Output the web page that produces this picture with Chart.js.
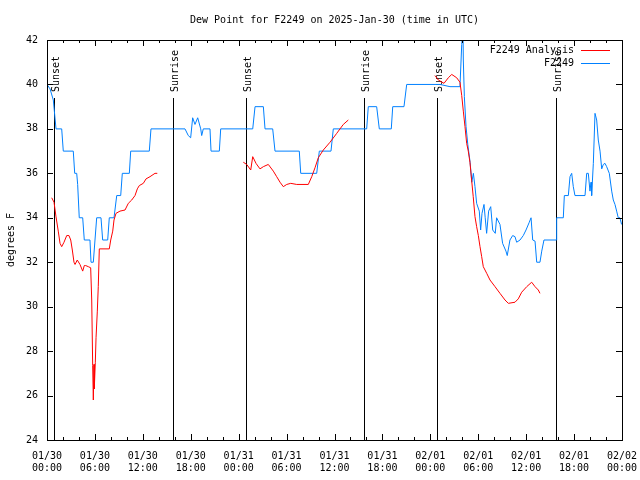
<!DOCTYPE html>
<html>
<head>
    <title>Dew Point for F2249</title>
    <script src="https://cdn.jsdelivr.net/npm/chart.js"></script>
    <style>
        body { margin: 0; background: white; }
        canvas { display: block; }
    </style>
</head>
<body>
    <canvas id="dewChart" width="640" height="480"></canvas>

    <script>
        // hours since 2025-01-30 00:00 UTC
        const obsHours = [0.0, 0.38, 0.79, 1.13, 1.84, 2.04, 3.29, 3.47, 3.72, 3.84, 4.04, 4.47, 4.67, 5.38, 5.51, 5.80, 6.01, 6.22, 6.76, 6.97,
            7.60, 7.80, 8.39, 8.73, 9.23, 9.43, 10.31, 10.48, 12.81, 13.02, 17.28, 17.69, 17.99, 18.24, 18.53, 18.87, 19.25, 19.37, 19.57, 20.41,
            20.54, 21.58, 21.75, 25.76, 26.05, 27.09, 27.30, 28.26, 28.55, 31.59, 31.77, 33.77, 34.10, 35.56, 35.85, 40.03, 40.23, 41.28, 41.61, 43.11,
            43.29, 44.70, 45.04, 49.21, 50.46, 51.71, 51.93, 52.09, 52.13, 52.26, 52.47, 52.69, 52.98, 53.19, 53.39, 53.59, 53.80, 54.13, 54.30, 54.47,
            54.72, 54.87, 55.05, 55.30, 55.56, 55.81, 56.13, 56.30, 56.72, 57.05, 57.47, 57.63, 57.97, 58.31, 58.60, 58.81, 59.23, 59.64, 59.98, 60.39,
            60.61, 60.82, 61.11, 61.32, 61.73, 61.95, 62.23, 63.74, 63.82, 64.65, 64.78, 65.28, 65.49, 65.70, 65.90, 66.11, 67.37, 67.58, 67.78, 67.99,
            68.12, 68.20, 68.41, 68.62, 68.83, 69.03, 69.25, 69.46, 69.66, 69.87, 70.08, 70.41, 70.71, 70.91, 71.12, 71.33, 71.53, 71.74, 71.95];
        const obsDew = [40.0, 39.8, 39.3, 38.0, 38.0, 37.0, 37.0, 36.0, 36.0, 35.5, 34.0, 34.0, 33.0, 33.0, 32.0, 32.0, 33.0, 34.0, 34.0, 33.0,
            33.0, 34.0, 34.0, 35.0, 35.0, 36.0, 36.0, 37.0, 37.0, 38.0, 38.0, 37.7, 37.6, 38.5, 38.2, 38.5, 38.0, 37.7, 38.0, 38.0,
            37.0, 37.0, 38.0, 38.0, 39.0, 39.0, 38.0, 38.0, 37.0, 37.0, 36.0, 36.0, 37.0, 37.0, 38.0, 38.0, 39.0, 39.0, 38.0, 38.0,
            39.0, 39.0, 40.0, 40.0, 39.9, 39.9, 41.8, 42.5, 41.1, 39.45, 38.1, 37.3, 36.5, 35.6, 36.0, 35.4, 34.65, 34.3, 33.45, 34.2,
            34.6, 34.0, 33.3, 34.3, 34.5, 33.45, 33.3, 34.0, 33.7, 32.85, 32.5, 32.3, 33.0, 33.2, 33.15, 32.9, 33.0, 33.2, 33.45, 33.8,
            34.0, 33.0, 32.95, 32.0, 32.0, 32.5, 33.0, 33.0, 34.0, 34.0, 35.0, 35.0, 35.85, 36.0, 35.4, 35.0, 35.0, 36.0, 36.0, 35.2,
            35.6, 35.0, 36.45, 38.7, 38.4, 37.5, 37.0, 36.2, 36.4, 36.45, 36.3, 36.0, 35.2, 34.8, 34.6, 34.3, 34.0, 34.0, 33.7];

        const anaHours = [0.59, 0.88, 1.13, 1.41, 1.63, 1.84, 2.13, 2.47, 2.75, 2.97, 3.17, 3.38, 3.51, 3.79, 4.13, 4.47, 4.67, 4.85, 5.17, 5.47,
            5.60, 5.72, 5.80, 5.89, 5.92, 6.05, 6.14, 6.30, 6.42, 6.55, 7.80, 7.98, 8.23, 8.39, 8.64, 9.14, 9.77, 10.18, 10.61, 11.02,
            11.31, 11.56, 12.06, 12.40, 12.90, 13.52, 13.81, 19.0,
            24.58, 25.01, 25.51, 25.76, 26.17, 26.67, 27.09, 27.71, 28.34, 28.76, 29.18, 29.59, 30.02, 30.52, 31.27, 32.72, 33.15, 33.56, 33.97, 34.60,
            35.44, 36.28, 37.10, 37.73, 43.0,
            48.58, 49.00, 49.71, 50.25, 50.68, 51.30, 51.71, 51.93, 52.13, 52.34, 52.55, 52.75, 52.96, 53.17, 53.37, 53.59, 53.80, 54.01, 54.22, 54.43,
            54.63, 55.06, 55.47, 56.10, 56.72, 57.35, 57.77, 58.60, 59.01, 59.44, 60.07, 60.69, 61.11, 61.52, 61.73];
        const anaDew = [34.9, 34.7, 34.04, 33.4, 32.85, 32.7, 32.9, 33.2, 33.2, 33.0, 32.55, 32.0, 31.9, 32.1, 31.9, 31.6, 31.85, 31.85, 31.8, 31.75,
            30.3, 27.36, 25.8, 27.4, 26.3, 27.5, 28.6, 29.8, 30.9, 32.6, 32.6, 33.0, 33.4, 33.9, 34.2, 34.3, 34.35, 34.65, 34.8, 35.0,
            35.3, 35.45, 35.55, 35.75, 35.85, 36.0, 36.0, null,
            36.5, 36.4, 36.15, 36.75, 36.45, 36.2, 36.3, 36.4, 36.1, 35.85, 35.6, 35.4, 35.5, 35.55, 35.5, 35.5, 35.85, 36.25, 36.7, 37.05,
            37.4, 37.8, 38.2, 38.4, null,
            40.4, 40.2, 40.05, 40.3, 40.45, 40.3, 40.1, 39.5, 38.8, 38.1, 37.35, 37.0, 36.5, 35.7, 34.95, 34.05, 33.6, 33.2, 32.7, 32.25,
            31.8, 31.5, 31.2, 30.9, 30.6, 30.3, 30.15, 30.2, 30.35, 30.65, 30.9, 31.1, 30.9, 30.75, 30.6];

        const tickDates = ['01/30', '01/30', '01/30', '01/30', '01/31', '01/31', '01/31', '01/31', '02/01', '02/01', '02/01', '02/01', '02/02'];
        const tickTimes = ['00:00', '06:00', '12:00', '18:00', '00:00', '06:00', '12:00', '18:00', '00:00', '06:00', '12:00', '18:00', '00:00'];

        const eventHours = [0.92, 15.82, 24.93, 39.72, 48.87, 63.73];
        const eventNames = ['Sunset', 'Sunrise', 'Sunset', 'Sunrise', 'Sunset', 'Sunrise'];

        const FONT = '10px "DejaVu Sans Mono"';

        const gnuplotBits = {
            id: 'gnuplotBits',
            beforeDatasetsDraw(chart) {
                const ctx = chart.ctx, a = chart.chartArea, xs = chart.scales.x;
                ctx.save();
                ctx.strokeStyle = '#000';
                ctx.lineWidth = 1;
                ctx.fillStyle = '#000';
                ctx.font = FONT;
                eventHours.forEach((h, i) => {
                    const px = Math.round(xs.getPixelForValue(h)) + 0.5;
                    ctx.beginPath();
                    ctx.moveTo(px, a.top + 58);
                    ctx.lineTo(px, a.bottom);
                    ctx.stroke();
                    ctx.save();
                    ctx.translate(px + 2, a.top + 52);
                    ctx.rotate(-Math.PI / 2);
                    ctx.textAlign = 'left';
                    ctx.textBaseline = 'middle';
                    ctx.fillText(eventNames[i], 0, 0);
                    ctx.restore();
                });
                ctx.restore();
            },
            afterDraw(chart) {
                const ctx = chart.ctx, a = chart.chartArea, xs = chart.scales.x, ys = chart.scales.y;
                ctx.save();
                ctx.strokeStyle = '#000';
                ctx.lineWidth = 1;
                // frame
                ctx.strokeRect(Math.round(a.left) + 0.5, Math.round(a.top) + 0.5,
                    Math.round(a.right - a.left), Math.round(a.bottom - a.top));
                // inside ticks
                ctx.beginPath();
                for (let h = 0; h <= 72; h += 2) {
                    const px = Math.round(xs.getPixelForValue(h)) + 0.5;
                    const len = h % 6 === 0 ? 6 : 3;
                    ctx.moveTo(px, a.bottom); ctx.lineTo(px, a.bottom - len);
                    ctx.moveTo(px, a.top); ctx.lineTo(px, a.top + len);
                }
                for (let v = 24; v <= 42; v += 2) {
                    const py = Math.round(ys.getPixelForValue(v)) + 0.5;
                    ctx.moveTo(a.left, py); ctx.lineTo(a.left + 6, py);
                    ctx.moveTo(a.right, py); ctx.lineTo(a.right - 6, py);
                }
                ctx.stroke();

                ctx.fillStyle = '#000';
                ctx.font = FONT;
                // title
                ctx.textAlign = 'center';
                ctx.textBaseline = 'middle';
                ctx.fillText('Dew Point for F2249 on 2025-Jan-30 (time in UTC)', (a.left + a.right) / 2, 20);
                // y axis title
                ctx.save();
                ctx.translate(11, (a.top + a.bottom) / 2);
                ctx.rotate(-Math.PI / 2);
                ctx.fillText('degrees F', 0, 0);
                ctx.restore();
                // key
                const sets = chart.data.datasets;
                ctx.textAlign = 'right';
                sets.forEach((ds, i) => {
                    const y = a.top + 10 + i * 13;
                    ctx.fillStyle = '#000';
                    ctx.fillText(ds.label, a.right - 48, y);
                    ctx.strokeStyle = ds.borderColor;
                    ctx.beginPath();
                    ctx.moveTo(a.right - 41, Math.round(y) + 0.5);
                    ctx.lineTo(a.right - 12, Math.round(y) + 0.5);
                    ctx.stroke();
                });
                ctx.restore();
            }
        };

        const ctx = document.getElementById('dewChart').getContext('2d');
        new Chart(ctx, {
            type: 'line',
            data: {
                datasets: [
                    {
                        label: 'F2249 Analysis',
                        data: anaHours.map((h, i) => ({ x: h, y: anaDew[i] })),
                        borderColor: '#ff0000',
                        borderWidth: 1,
                        pointRadius: 0,
                        spanGaps: false
                    },
                    {
                        label: 'F2249',
                        data: obsHours.map((h, i) => ({ x: h, y: obsDew[i] })),
                        borderColor: '#0080ff',
                        borderWidth: 1,
                        pointRadius: 0
                    }
                ]
            },
            options: {
                responsive: false,
                animation: false,
                layout: { padding: { top: 40, right: 18, left: 0, bottom: 0 } },
                plugins: {
                    legend: { display: false },
                    title: { display: false },
                    tooltip: { enabled: false }
                },
                scales: {
                    x: {
                        type: 'linear',
                        min: 0,
                        max: 72,
                        grid: { display: false, drawTicks: false },
                        border: { display: false },
                        afterFit: s => { s.height = 40; s.paddingLeft = 0; s.paddingRight = 0; },
                        ticks: {
                            stepSize: 6,
                            autoSkip: false,
                            maxRotation: 0,
                            padding: 10,
                            color: '#000',
                            font: { family: 'DejaVu Sans Mono', size: 10, lineHeight: 1.2 },
                            callback: v => [tickDates[v / 6], tickTimes[v / 6]]
                        }
                    },
                    y: {
                        min: 24,
                        max: 42,
                        grid: { display: false, drawTicks: false },
                        border: { display: false },
                        afterFit: s => { s.width = 47; s.paddingTop = 0; s.paddingBottom = 0; },
                        ticks: {
                            stepSize: 2,
                            padding: 9,
                            color: '#000',
                            font: { family: 'DejaVu Sans Mono', size: 10 }
                        }
                    }
                }
            },
            plugins: [gnuplotBits]
        });
    </script>
</body>
</html>
